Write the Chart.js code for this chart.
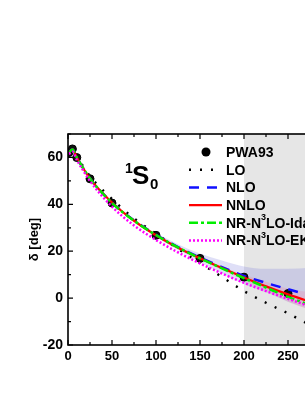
<!DOCTYPE html>
<html>
<head>
<meta charset="utf-8">
<script src="https://cdn.jsdelivr.net/npm/chart.js@4.4.1/dist/chart.umd.min.js"></script>
<style>
  html, body { margin: 0; padding: 0; background: #fff; overflow: hidden; }
  #wrap { width: 305px; height: 395px; overflow: hidden; }
</style>
</head>
<body>
<div id="wrap"><canvas id="phase" width="400" height="395"></canvas></div>
<script>
// PWA93 phase shifts
const pwaEnergy = [1, 5, 10, 25, 50, 100, 150, 200, 250, 300];
const pwaPhase = [62.07, 63.63, 59.96, 50.9, 40.54, 26.78, 16.94, 8.94, 1.96, -4.46];

// theory curves, all on one energy grid
const energy = [1, 5, 10, 25, 50, 75, 100, 125, 150, 175, 200, 225, 250, 275, 300];
const lo   = [62.5, 63.5, 60.5, 52, 42.3, 34, 27.5, 21, 15, 9, 3, -2, -6.5, -11.5, -16.5];
const nlo  = [62, 63.5, 60, 51, 40.8, 33.2, 27, 21.8, 17.3, 13.2, 9.5, 6.5, 3.8, 1.2, -1.5];
const nnlo = [62, 63.5, 60, 51, 40.8, 33, 26.8, 21.5, 17, 12.8, 8.8, 5, 1.6, -1.5, -4.5];
const ida  = [62, 63.4, 60, 51, 40.6, 33, 26.9, 21.6, 17, 12.7, 8.5, 4.5, 0.5, -3, -6.5];
const ek   = [61.5, 62.5, 59, 50, 39, 31, 24.8, 19.5, 14.8, 10.5, 6.5, 3, -0.3, -3.5, -6.5];

// uncertainty bands
const bandEnergy = [100, 125, 150, 175, 200, 225, 250, 275, 300];
const blueHi = [27.8, 23, 19, 16, 13.5, 12.5, 12.5, 13, 14];
const blueLo = [26, 20.5, 15.5, 10.5, 6, 2.5, -1.5, -5, -9];
const pinkHi = [27.2, 22, 17.5, 13.5, 10, 7, 4, 2.5, 1];
const pinkLo = [26.5, 21, 16.5, 12, 7.5, 3, -1.5, -5, -8];

const xTicks = [0, 50, 100, 150, 200, 250, 300, 350];
const yTicks = [-20, 0, 20, 40, 60];
const shadeFrom = 200;

const FONT = "'Liberation Sans', Arial, sans-serif";

function pts(xs, ys) {
  return xs.map((x, i) => ({ x: x, y: ys[i] }));
}

function curve(label, ys, color, width, dash, order) {
  return {
    label: label,
    data: pts(energy, ys),
    showLine: true,
    borderColor: color,
    borderWidth: width,
    borderDash: dash,
    pointRadius: 0,
    fill: false,
    cubicInterpolationMode: "monotone",
    order: order,
  };
}

function band(ys, color, fill, order) {
  return {
    label: "",
    data: pts(bandEnergy, ys),
    showLine: true,
    borderWidth: 0,
    borderColor: "rgba(0,0,0,0)",
    backgroundColor: color,
    pointRadius: 0,
    fill: fill,
    cubicInterpolationMode: "monotone",
    order: order,
  };
}

const legendRows = [
  { ds: 0, parts: [["PWA93", false]] },
  { ds: 1, parts: [["LO", false]] },
  { ds: 2, parts: [["NLO", false]] },
  { ds: 3, parts: [["NNLO", false]] },
  { ds: 4, parts: [["NR-N", false], ["3", true], ["LO-Ida", false]] },
  { ds: 5, parts: [["NR-N", false], ["3", true], ["LO-EK", false]] },
];

const decor = {
  id: "decor",
  beforeDatasetsDraw(chart) {
    const { ctx, chartArea: a, scales } = chart;
    const gx = scales.x.getPixelForValue(shadeFrom);
    ctx.save();
    ctx.fillStyle = "#e6e6e6";
    ctx.fillRect(gx, a.top, a.right - gx, a.bottom - a.top);
    ctx.restore();
  },
  afterDraw(chart) {
    const { ctx, chartArea: a, scales } = chart;
    ctx.save();

    // frame
    ctx.strokeStyle = "#000";
    ctx.lineWidth = 1.6;
    ctx.strokeRect(a.left, a.top, a.right - a.left, a.bottom - a.top);

    // inward ticks
    ctx.lineWidth = 1.2;
    ctx.beginPath();
    for (let v = 0; v <= 350; v += 25) {
      const px = scales.x.getPixelForValue(v);
      const len = v % 50 === 0 ? 5 : 3;
      ctx.moveTo(px, a.bottom); ctx.lineTo(px, a.bottom - len);
      ctx.moveTo(px, a.top); ctx.lineTo(px, a.top + len);
    }
    for (let v = -20; v <= 70; v += 10) {
      const py = scales.y.getPixelForValue(v);
      const len = v % 20 === 0 ? 5 : 3;
      ctx.moveTo(a.left, py); ctx.lineTo(a.left + len, py);
      ctx.moveTo(a.right, py); ctx.lineTo(a.right - len, py);
    }
    ctx.stroke();

    // 1S0 label
    ctx.fillStyle = "#000";
    ctx.textBaseline = "alphabetic";
    ctx.font = "bold 14px " + FONT;
    ctx.fillText("1", 125, 173);
    ctx.font = "bold 26px " + FONT;
    ctx.fillText("S", 132, 184);
    ctx.font = "bold 15px " + FONT;
    ctx.fillText("0", 150, 189);

    // legend
    legendRows.forEach((row, i) => {
      const y = 152 + i * 17.7;
      const ds = chart.data.datasets[row.ds];
      if (row.ds === 0) {
        ctx.beginPath();
        ctx.fillStyle = "#000";
        ctx.arc(206, y, 4.5, 0, Math.PI * 2);
        ctx.fill();
      } else {
        ctx.beginPath();
        ctx.strokeStyle = ds.borderColor;
        ctx.lineWidth = ds.borderWidth;
        ctx.setLineDash(ds.borderDash || []);
        ctx.moveTo(189, y);
        ctx.lineTo(222, y);
        ctx.stroke();
        ctx.setLineDash([]);
      }
      let tx = 226;
      ctx.fillStyle = "#000";
      ctx.textBaseline = "middle";
      row.parts.forEach(([txt, sup]) => {
        ctx.font = (sup ? "bold 9px " : "bold 14px ") + FONT;
        ctx.fillText(txt, tx, sup ? y - 5 : y + 1);
        tx += ctx.measureText(txt).width;
      });
    });

    ctx.restore();
  },
};

const chart = new Chart(document.getElementById("phase"), {
  type: "scatter",
  data: {
    datasets: [
      {
        label: "PWA93",
        data: pts(pwaEnergy, pwaPhase),
        pointRadius: 4,
        pointBackgroundColor: "#111",
        pointBorderColor: "#000",
        showLine: false,
        order: 6,
      },
      curve("LO", lo, "#000000", 2.4, [2, 9], 5),
      curve("NLO", nlo, "#1010ff", 2.5, [10, 8], 4),
      curve("NNLO", nnlo, "#ff0000", 2.2, [], 3),
      curve("NR-N3LO-Ida", ida, "#00ee00", 2.5, [9, 3, 3, 3], 2),
      curve("NR-N3LO-EK", ek, "#ff00ff", 2.5, [2, 2], 1),
      band(blueHi, "rgba(110,110,220,0.22)", "+1", 9),
      band(blueLo, "rgba(0,0,0,0)", false, 10),
      band(pinkHi, "rgba(255,110,150,0.22)", "+1", 7),
      band(pinkLo, "rgba(0,0,0,0)", false, 8),
    ],
  },
  options: {
    responsive: false,
    animation: false,
    devicePixelRatio: 1,
    layout: {
      padding: { top: 134, right: 24, left: 0, bottom: 0 },
    },
    plugins: {
      legend: { display: false },
      tooltip: { enabled: false },
    },
    scales: {
      x: {
        type: "linear",
        min: 0,
        max: 350,
        afterFit: (s) => { s.height = 50; },
        afterBuildTicks: (s) => { s.ticks = xTicks.map((v) => ({ value: v })); },
        grid: { display: false, drawTicks: false, tickLength: 0 },
        border: { display: false },
        ticks: {
          padding: 4,
          color: "#000",
          maxRotation: 0,
          font: { family: FONT, size: 13, weight: "bold" },
        },
      },
      y: {
        type: "linear",
        min: -20,
        max: 70,
        afterFit: (s) => { s.width = 68; },
        afterBuildTicks: (s) => { s.ticks = yTicks.map((v) => ({ value: v })); },
        grid: { display: false, drawTicks: false, tickLength: 0 },
        border: { display: false },
        ticks: {
          padding: 5,
          color: "#000",
          font: { family: FONT, size: 14, weight: "bold" },
        },
        title: {
          display: true,
          text: "δ [deg]",
          color: "#000",
          padding: { top: 27, bottom: 0 },
          font: { family: FONT, size: 13, weight: "bold" },
        },
      },
    },
  },
  plugins: [decor],
});
</script>
</body>
</html>
